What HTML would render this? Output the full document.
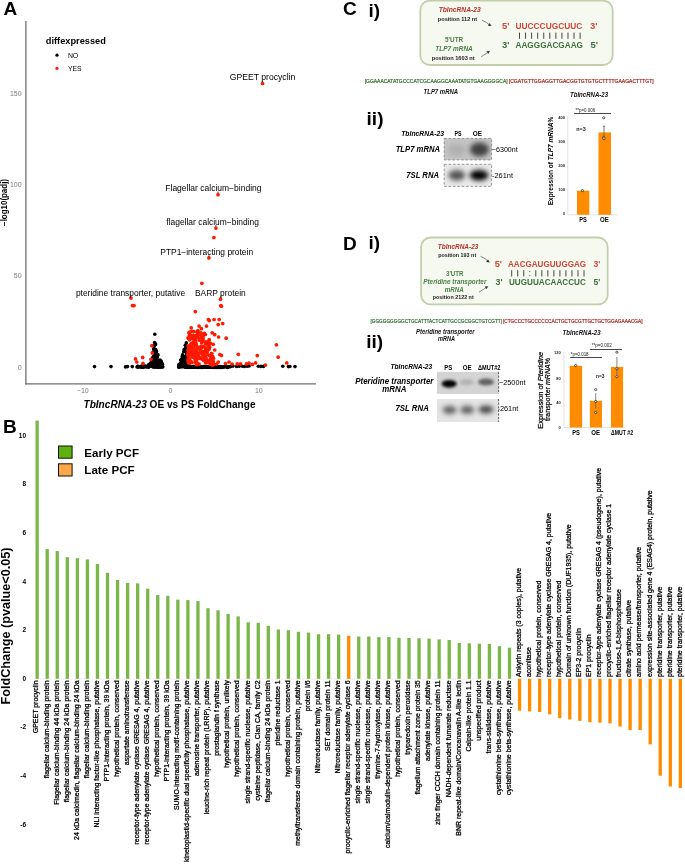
<!DOCTYPE html>
<html><head><meta charset="utf-8"><style>
html,body{margin:0;padding:0;background:#fff;}
svg{display:block;opacity:0.999;}
text{font-family:"Liberation Sans", sans-serif;}
</style></head><body>
<svg width="685" height="865" viewBox="0 0 685 865" font-family='"Liberation Sans", sans-serif'>
<rect width="685" height="865" fill="#fff"/>
<text x="3.40" y="14.60" font-size="19" font-weight="bold">A</text>
<line x1="25.9" y1="21" x2="25.9" y2="384.4" stroke="#6e6e6e" stroke-width="1.3"/>
<line x1="25.3" y1="383.8" x2="316" y2="383.8" stroke="#6e6e6e" stroke-width="1.3"/>
<text x="21.60" y="95.60" font-size="7.0" fill="#7a7a7a" text-anchor="end">150</text>
<text x="21.60" y="187.20" font-size="7.0" fill="#7a7a7a" text-anchor="end">100</text>
<text x="21.60" y="278.40" font-size="7.0" fill="#7a7a7a" text-anchor="end">50</text>
<text x="21.60" y="370.20" font-size="7.0" fill="#7a7a7a" text-anchor="end">0</text>
<text x="82.80" y="393.30" font-size="7.0" fill="#7a7a7a" text-anchor="middle">−10</text>
<text x="170.50" y="393.30" font-size="7.0" fill="#7a7a7a" text-anchor="middle">0</text>
<text x="258.80" y="393.30" font-size="7.0" fill="#7a7a7a" text-anchor="middle">10</text>
<text x="83.5" y="408.4" font-size="10.1" font-weight="bold" textLength="172" lengthAdjust="spacingAndGlyphs"><tspan font-style="italic">TbIncRNA-23</tspan> OE vs PS FoldChange</text>
<text x="0" y="0" font-size="8.3" font-weight="bold" text-anchor="middle" textLength="47.00" lengthAdjust="spacingAndGlyphs" transform="translate(6.80,202.50) rotate(-90)">−log10(padj)</text>
<text x="45.80" y="43.80" font-size="9.2" font-weight="bold" textLength="60.00" lengthAdjust="spacingAndGlyphs">diffexpressed</text>
<circle cx="57" cy="55.2" r="1.6" fill="#000"/>
<circle cx="57" cy="68.3" r="1.6" fill="#ff1a00"/>
<text x="67.90" y="57.70" font-size="6.9">NO</text>
<text x="67.90" y="70.80" font-size="6.9">YES</text>
<g fill="#000"><circle cx="94.5" cy="366.6" r="1.8"/><circle cx="111.0" cy="366.6" r="1.8"/><circle cx="125.5" cy="366.9" r="1.8"/><circle cx="127.5" cy="366.6" r="1.8"/><circle cx="132.3" cy="366.6" r="1.8"/><circle cx="137.9" cy="366.7" r="1.8"/><circle cx="141.0" cy="366.3" r="1.8"/><circle cx="144.0" cy="366.6" r="1.8"/><circle cx="146.5" cy="366.7" r="1.8"/><circle cx="157.8" cy="366.5" r="1.8"/><circle cx="144.3" cy="366.5" r="1.8"/><circle cx="152.9" cy="365.8" r="1.8"/><circle cx="142.7" cy="366.9" r="1.8"/><circle cx="153.6" cy="357.2" r="1.8"/><circle cx="154.2" cy="358.7" r="1.8"/><circle cx="155.5" cy="362.7" r="1.8"/><circle cx="159.3" cy="367.0" r="1.8"/><circle cx="146.9" cy="366.7" r="1.8"/><circle cx="143.4" cy="366.6" r="1.8"/><circle cx="156.8" cy="366.3" r="1.8"/><circle cx="142.8" cy="366.5" r="1.8"/><circle cx="148.3" cy="365.3" r="1.8"/><circle cx="156.1" cy="366.1" r="1.8"/><circle cx="153.7" cy="366.3" r="1.8"/><circle cx="158.1" cy="363.0" r="1.8"/><circle cx="160.3" cy="364.9" r="1.8"/><circle cx="153.7" cy="366.5" r="1.8"/><circle cx="138.0" cy="366.6" r="1.8"/><circle cx="152.0" cy="364.3" r="1.8"/><circle cx="152.5" cy="361.3" r="1.8"/><circle cx="159.8" cy="365.4" r="1.8"/><circle cx="158.5" cy="364.2" r="1.8"/><circle cx="161.9" cy="365.2" r="1.8"/><circle cx="152.6" cy="359.8" r="1.8"/><circle cx="138.9" cy="366.9" r="1.8"/><circle cx="162.5" cy="364.4" r="1.8"/><circle cx="155.4" cy="364.1" r="1.8"/><circle cx="155.8" cy="366.7" r="1.8"/><circle cx="141.6" cy="367.0" r="1.8"/><circle cx="154.1" cy="349.5" r="1.8"/><circle cx="152.1" cy="366.0" r="1.8"/><circle cx="137.0" cy="367.0" r="1.8"/><circle cx="162.5" cy="367.0" r="1.8"/><circle cx="153.5" cy="357.9" r="1.8"/><circle cx="156.1" cy="362.7" r="1.8"/><circle cx="155.4" cy="344.6" r="1.8"/><circle cx="161.2" cy="361.8" r="1.8"/><circle cx="160.0" cy="360.0" r="1.8"/><circle cx="152.7" cy="366.6" r="1.8"/><circle cx="152.0" cy="359.2" r="1.8"/><circle cx="159.1" cy="366.6" r="1.8"/><circle cx="156.6" cy="366.9" r="1.8"/><circle cx="152.5" cy="357.9" r="1.8"/><circle cx="161.3" cy="364.1" r="1.8"/><circle cx="154.6" cy="365.1" r="1.8"/><circle cx="154.1" cy="359.2" r="1.8"/><circle cx="160.5" cy="362.5" r="1.8"/><circle cx="154.3" cy="365.1" r="1.8"/><circle cx="144.7" cy="366.1" r="1.8"/><circle cx="162.1" cy="363.6" r="1.8"/><circle cx="148.4" cy="366.7" r="1.8"/><circle cx="151.7" cy="362.9" r="1.8"/><circle cx="157.8" cy="367.0" r="1.8"/><circle cx="142.5" cy="366.0" r="1.8"/><circle cx="140.9" cy="367.0" r="1.8"/><circle cx="156.8" cy="360.7" r="1.8"/><circle cx="155.9" cy="366.1" r="1.8"/><circle cx="161.0" cy="361.1" r="1.8"/><circle cx="155.7" cy="364.9" r="1.8"/><circle cx="157.7" cy="362.6" r="1.8"/><circle cx="145.6" cy="366.6" r="1.8"/><circle cx="157.1" cy="357.7" r="1.8"/><circle cx="157.7" cy="366.0" r="1.8"/><circle cx="150.5" cy="363.3" r="1.8"/><circle cx="156.0" cy="351.8" r="1.8"/><circle cx="151.4" cy="362.8" r="1.8"/><circle cx="160.8" cy="365.0" r="1.8"/><circle cx="158.0" cy="354.9" r="1.8"/><circle cx="161.4" cy="363.8" r="1.8"/><circle cx="149.0" cy="366.2" r="1.8"/><circle cx="153.0" cy="366.4" r="1.8"/><circle cx="156.1" cy="366.2" r="1.8"/><circle cx="150.0" cy="364.2" r="1.8"/><circle cx="153.4" cy="351.8" r="1.8"/><circle cx="161.4" cy="364.8" r="1.8"/><circle cx="156.0" cy="364.0" r="1.8"/><circle cx="154.8" cy="367.0" r="1.8"/><circle cx="156.8" cy="357.1" r="1.8"/><circle cx="154.9" cy="365.3" r="1.8"/><circle cx="137.9" cy="366.4" r="1.8"/><circle cx="138.6" cy="366.8" r="1.8"/><circle cx="157.0" cy="362.5" r="1.8"/><circle cx="159.2" cy="365.4" r="1.8"/><circle cx="158.1" cy="364.0" r="1.8"/><circle cx="148.9" cy="367.0" r="1.8"/><circle cx="153.2" cy="364.5" r="1.8"/><circle cx="153.7" cy="349.1" r="1.8"/><circle cx="156.3" cy="364.1" r="1.8"/><circle cx="147.0" cy="366.8" r="1.8"/><circle cx="156.9" cy="366.9" r="1.8"/><circle cx="161.6" cy="365.7" r="1.8"/><circle cx="149.0" cy="365.6" r="1.8"/><circle cx="152.4" cy="361.4" r="1.8"/><circle cx="151.4" cy="363.5" r="1.8"/><circle cx="155.7" cy="363.2" r="1.8"/><circle cx="156.8" cy="360.8" r="1.8"/><circle cx="162.0" cy="366.7" r="1.8"/><circle cx="148.5" cy="365.1" r="1.8"/><circle cx="154.4" cy="358.7" r="1.8"/><circle cx="142.6" cy="366.3" r="1.8"/><circle cx="153.2" cy="361.6" r="1.8"/><circle cx="160.2" cy="366.9" r="1.8"/><circle cx="138.0" cy="366.6" r="1.8"/><circle cx="154.6" cy="355.4" r="1.8"/><circle cx="153.4" cy="361.2" r="1.8"/><circle cx="149.2" cy="364.9" r="1.8"/><circle cx="159.1" cy="366.7" r="1.8"/><circle cx="146.2" cy="366.5" r="1.8"/><circle cx="160.1" cy="366.7" r="1.8"/><circle cx="154.2" cy="366.6" r="1.8"/><circle cx="155.1" cy="363.5" r="1.8"/><circle cx="156.0" cy="361.4" r="1.8"/><circle cx="160.6" cy="364.2" r="1.8"/><circle cx="151.5" cy="365.5" r="1.8"/><circle cx="143.7" cy="367.0" r="1.8"/><circle cx="157.7" cy="366.6" r="1.8"/><circle cx="160.7" cy="366.6" r="1.8"/><circle cx="153.4" cy="366.0" r="1.8"/><circle cx="156.5" cy="351.4" r="1.8"/><circle cx="157.0" cy="356.5" r="1.8"/><circle cx="157.0" cy="360.6" r="1.8"/><circle cx="154.5" cy="357.5" r="1.8"/><circle cx="153.6" cy="356.4" r="1.8"/><circle cx="155.5" cy="344.1" r="1.8"/><circle cx="162.7" cy="366.8" r="1.8"/><circle cx="144.5" cy="366.3" r="1.8"/><circle cx="140.9" cy="366.8" r="1.8"/><circle cx="161.0" cy="366.9" r="1.8"/><circle cx="155.7" cy="353.7" r="1.8"/><circle cx="156.8" cy="362.8" r="1.8"/><circle cx="142.1" cy="366.8" r="1.8"/><circle cx="150.2" cy="363.7" r="1.8"/><circle cx="142.5" cy="367.0" r="1.8"/><circle cx="152.7" cy="365.8" r="1.8"/><circle cx="150.7" cy="365.9" r="1.8"/><circle cx="157.2" cy="367.0" r="1.8"/><circle cx="158.6" cy="366.6" r="1.8"/><circle cx="150.5" cy="365.8" r="1.8"/><circle cx="158.9" cy="362.8" r="1.8"/><circle cx="144.5" cy="366.7" r="1.8"/><circle cx="155.7" cy="361.6" r="1.8"/><circle cx="154.9" cy="366.4" r="1.8"/><circle cx="154.0" cy="367.0" r="1.8"/><circle cx="148.6" cy="367.0" r="1.8"/><circle cx="150.8" cy="363.1" r="1.8"/><circle cx="154.3" cy="364.1" r="1.8"/><circle cx="155.5" cy="365.4" r="1.8"/><circle cx="152.3" cy="366.6" r="1.8"/><circle cx="158.6" cy="360.9" r="1.8"/><circle cx="154.8" cy="334.2" r="1.8"/><circle cx="154.6" cy="342.6" r="1.8"/><circle cx="154.1" cy="348.5" r="1.8"/><circle cx="155.7" cy="349.5" r="1.8"/><circle cx="154.5" cy="345.5" r="1.8"/><circle cx="181.7" cy="360.7" r="1.8"/><circle cx="186.7" cy="353.6" r="1.8"/><circle cx="184.7" cy="367.0" r="1.8"/><circle cx="181.7" cy="362.3" r="1.8"/><circle cx="185.2" cy="366.3" r="1.8"/><circle cx="182.2" cy="358.2" r="1.8"/><circle cx="186.7" cy="347.9" r="1.8"/><circle cx="184.8" cy="365.6" r="1.8"/><circle cx="184.1" cy="362.1" r="1.8"/><circle cx="183.6" cy="365.9" r="1.8"/><circle cx="183.7" cy="351.8" r="1.8"/><circle cx="187.2" cy="365.1" r="1.8"/><circle cx="188.4" cy="354.7" r="1.8"/><circle cx="180.3" cy="366.5" r="1.8"/><circle cx="185.7" cy="362.6" r="1.8"/><circle cx="188.2" cy="361.9" r="1.8"/><circle cx="183.1" cy="366.1" r="1.8"/><circle cx="188.7" cy="365.9" r="1.8"/><circle cx="188.0" cy="357.2" r="1.8"/><circle cx="184.2" cy="356.7" r="1.8"/><circle cx="184.7" cy="366.1" r="1.8"/><circle cx="187.1" cy="363.4" r="1.8"/><circle cx="187.9" cy="364.3" r="1.8"/><circle cx="178.9" cy="366.9" r="1.8"/><circle cx="188.3" cy="353.7" r="1.8"/><circle cx="186.1" cy="361.4" r="1.8"/><circle cx="183.2" cy="365.8" r="1.8"/><circle cx="182.3" cy="356.4" r="1.8"/><circle cx="184.6" cy="359.2" r="1.8"/><circle cx="182.6" cy="354.8" r="1.8"/><circle cx="185.6" cy="350.3" r="1.8"/><circle cx="186.3" cy="358.8" r="1.8"/><circle cx="187.4" cy="360.8" r="1.8"/><circle cx="182.8" cy="356.5" r="1.8"/><circle cx="188.0" cy="357.7" r="1.8"/><circle cx="183.8" cy="360.2" r="1.8"/><circle cx="188.0" cy="362.8" r="1.8"/><circle cx="187.9" cy="351.2" r="1.8"/><circle cx="184.6" cy="350.5" r="1.8"/><circle cx="178.9" cy="366.1" r="1.8"/><circle cx="183.0" cy="358.4" r="1.8"/><circle cx="182.4" cy="366.8" r="1.8"/><circle cx="185.7" cy="357.7" r="1.8"/><circle cx="180.7" cy="363.1" r="1.8"/><circle cx="182.4" cy="364.4" r="1.8"/><circle cx="188.6" cy="353.4" r="1.8"/><circle cx="187.5" cy="360.5" r="1.8"/><circle cx="186.9" cy="364.7" r="1.8"/><circle cx="186.2" cy="356.5" r="1.8"/><circle cx="187.9" cy="366.4" r="1.8"/><circle cx="186.7" cy="366.1" r="1.8"/><circle cx="181.4" cy="362.7" r="1.8"/><circle cx="187.0" cy="361.1" r="1.8"/><circle cx="178.6" cy="366.9" r="1.8"/><circle cx="187.9" cy="363.1" r="1.8"/><circle cx="188.8" cy="359.2" r="1.8"/><circle cx="180.4" cy="363.3" r="1.8"/><circle cx="182.0" cy="359.2" r="1.8"/><circle cx="188.9" cy="365.0" r="1.8"/><circle cx="185.0" cy="365.2" r="1.8"/><circle cx="187.7" cy="366.8" r="1.8"/><circle cx="187.6" cy="351.9" r="1.8"/><circle cx="188.3" cy="359.9" r="1.8"/><circle cx="179.0" cy="364.6" r="1.8"/><circle cx="180.2" cy="365.3" r="1.8"/><circle cx="186.7" cy="361.6" r="1.8"/><circle cx="184.5" cy="364.5" r="1.8"/><circle cx="185.4" cy="363.7" r="1.8"/><circle cx="185.1" cy="366.4" r="1.8"/><circle cx="188.8" cy="360.0" r="1.8"/><circle cx="183.9" cy="357.6" r="1.8"/><circle cx="181.2" cy="364.2" r="1.8"/><circle cx="186.9" cy="366.5" r="1.8"/><circle cx="180.8" cy="363.6" r="1.8"/><circle cx="184.1" cy="365.2" r="1.8"/><circle cx="186.3" cy="361.4" r="1.8"/><circle cx="188.2" cy="358.4" r="1.8"/><circle cx="185.1" cy="361.9" r="1.8"/><circle cx="185.3" cy="349.4" r="1.8"/><circle cx="183.7" cy="358.3" r="1.8"/><circle cx="187.3" cy="352.8" r="1.8"/><circle cx="180.7" cy="360.0" r="1.8"/><circle cx="186.5" cy="349.3" r="1.8"/><circle cx="186.7" cy="364.4" r="1.8"/><circle cx="183.4" cy="364.7" r="1.8"/><circle cx="184.4" cy="358.5" r="1.8"/><circle cx="185.9" cy="356.3" r="1.8"/><circle cx="187.6" cy="365.3" r="1.8"/><circle cx="179.8" cy="367.0" r="1.8"/><circle cx="183.5" cy="360.1" r="1.8"/><circle cx="182.9" cy="363.9" r="1.8"/><circle cx="186.8" cy="366.6" r="1.8"/><circle cx="188.0" cy="356.5" r="1.8"/><circle cx="180.7" cy="365.8" r="1.8"/><circle cx="181.5" cy="366.8" r="1.8"/><circle cx="183.8" cy="363.9" r="1.8"/><circle cx="184.5" cy="366.5" r="1.8"/><circle cx="187.0" cy="365.5" r="1.8"/><circle cx="180.9" cy="365.6" r="1.8"/><circle cx="185.6" cy="347.7" r="1.8"/><circle cx="186.7" cy="366.7" r="1.8"/><circle cx="182.6" cy="361.8" r="1.8"/><circle cx="186.2" cy="366.9" r="1.8"/><circle cx="181.3" cy="360.4" r="1.8"/><circle cx="178.9" cy="366.9" r="1.8"/><circle cx="186.1" cy="364.5" r="1.8"/><circle cx="188.3" cy="361.8" r="1.8"/><circle cx="184.8" cy="366.9" r="1.8"/><circle cx="183.1" cy="361.2" r="1.8"/><circle cx="187.3" cy="361.4" r="1.8"/><circle cx="186.3" cy="342.9" r="1.8"/><circle cx="185.3" cy="345.2" r="1.8"/><circle cx="184.2" cy="349.5" r="1.8"/><circle cx="187.5" cy="347.0" r="1.8"/><circle cx="218.7" cy="366.7" r="1.8"/><circle cx="197.4" cy="366.7" r="1.8"/><circle cx="206.7" cy="366.6" r="1.8"/><circle cx="191.7" cy="366.7" r="1.8"/><circle cx="202.8" cy="366.8" r="1.8"/><circle cx="201.8" cy="367.4" r="1.8"/><circle cx="213.2" cy="367.3" r="1.8"/><circle cx="191.7" cy="366.8" r="1.8"/><circle cx="187.5" cy="367.1" r="1.8"/><circle cx="198.0" cy="366.7" r="1.8"/><circle cx="186.3" cy="366.7" r="1.8"/><circle cx="193.9" cy="366.9" r="1.8"/><circle cx="226.6" cy="367.1" r="1.8"/><circle cx="194.1" cy="366.8" r="1.8"/><circle cx="189.9" cy="367.3" r="1.8"/><circle cx="197.9" cy="367.2" r="1.8"/><circle cx="215.5" cy="367.3" r="1.8"/><circle cx="186.3" cy="366.8" r="1.8"/><circle cx="199.0" cy="366.6" r="1.8"/><circle cx="224.2" cy="366.8" r="1.8"/><circle cx="218.1" cy="367.0" r="1.8"/><circle cx="187.0" cy="366.9" r="1.8"/><circle cx="193.0" cy="366.5" r="1.8"/><circle cx="189.8" cy="367.0" r="1.8"/><circle cx="186.5" cy="366.8" r="1.8"/><circle cx="200.8" cy="367.0" r="1.8"/><circle cx="189.4" cy="367.1" r="1.8"/><circle cx="193.8" cy="367.2" r="1.8"/><circle cx="212.5" cy="366.6" r="1.8"/><circle cx="191.7" cy="366.8" r="1.8"/><circle cx="215.0" cy="366.9" r="1.8"/><circle cx="199.1" cy="367.3" r="1.8"/><circle cx="192.5" cy="366.8" r="1.8"/><circle cx="197.3" cy="366.7" r="1.8"/><circle cx="186.7" cy="366.5" r="1.8"/><circle cx="210.7" cy="367.0" r="1.8"/><circle cx="220.1" cy="367.4" r="1.8"/><circle cx="195.3" cy="367.1" r="1.8"/><circle cx="226.3" cy="366.7" r="1.8"/><circle cx="213.7" cy="367.1" r="1.8"/><circle cx="228.4" cy="367.3" r="1.8"/><circle cx="192.8" cy="367.1" r="1.8"/><circle cx="188.0" cy="366.9" r="1.8"/><circle cx="199.3" cy="366.6" r="1.8"/><circle cx="198.9" cy="366.8" r="1.8"/><circle cx="204.1" cy="366.8" r="1.8"/><circle cx="190.1" cy="366.9" r="1.8"/><circle cx="203.1" cy="366.7" r="1.8"/><circle cx="212.5" cy="366.7" r="1.8"/><circle cx="188.1" cy="366.8" r="1.8"/><circle cx="200.7" cy="366.6" r="1.8"/><circle cx="208.3" cy="367.1" r="1.8"/><circle cx="206.8" cy="367.1" r="1.8"/><circle cx="186.3" cy="366.9" r="1.8"/><circle cx="198.1" cy="366.6" r="1.8"/><circle cx="199.9" cy="366.5" r="1.8"/><circle cx="204.1" cy="367.0" r="1.8"/><circle cx="202.8" cy="366.8" r="1.8"/><circle cx="193.6" cy="366.5" r="1.8"/><circle cx="197.4" cy="367.3" r="1.8"/><circle cx="207.5" cy="366.7" r="1.8"/><circle cx="212.6" cy="366.7" r="1.8"/><circle cx="202.8" cy="367.1" r="1.8"/><circle cx="228.4" cy="366.8" r="1.8"/><circle cx="208.0" cy="367.3" r="1.8"/><circle cx="218.1" cy="367.1" r="1.8"/><circle cx="210.2" cy="366.9" r="1.8"/><circle cx="200.4" cy="366.7" r="1.8"/><circle cx="221.3" cy="367.3" r="1.8"/><circle cx="198.9" cy="367.3" r="1.8"/><circle cx="186.6" cy="366.6" r="1.8"/><circle cx="204.6" cy="366.8" r="1.8"/><circle cx="197.9" cy="367.4" r="1.8"/><circle cx="189.8" cy="366.7" r="1.8"/><circle cx="192.6" cy="367.1" r="1.8"/><circle cx="192.8" cy="366.5" r="1.8"/><circle cx="206.4" cy="366.9" r="1.8"/><circle cx="193.0" cy="366.9" r="1.8"/><circle cx="211.7" cy="367.0" r="1.8"/><circle cx="210.4" cy="367.0" r="1.8"/><circle cx="221.4" cy="367.4" r="1.8"/><circle cx="196.8" cy="366.8" r="1.8"/><circle cx="224.5" cy="366.8" r="1.8"/><circle cx="215.1" cy="367.1" r="1.8"/><circle cx="213.6" cy="367.4" r="1.8"/><circle cx="221.0" cy="366.6" r="1.8"/><circle cx="210.3" cy="366.9" r="1.8"/><circle cx="207.4" cy="366.8" r="1.8"/><circle cx="194.8" cy="367.2" r="1.8"/><circle cx="205.9" cy="366.7" r="1.8"/><circle cx="193.4" cy="366.8" r="1.8"/><circle cx="190.8" cy="367.0" r="1.8"/><circle cx="189.0" cy="366.6" r="1.8"/><circle cx="187.4" cy="366.6" r="1.8"/><circle cx="214.6" cy="366.6" r="1.8"/><circle cx="202.0" cy="367.2" r="1.8"/><circle cx="203.4" cy="366.6" r="1.8"/><circle cx="223.3" cy="367.3" r="1.8"/><circle cx="187.0" cy="366.7" r="1.8"/><circle cx="204.6" cy="367.2" r="1.8"/><circle cx="199.3" cy="367.1" r="1.8"/><circle cx="193.5" cy="367.1" r="1.8"/><circle cx="196.5" cy="366.8" r="1.8"/><circle cx="217.5" cy="367.3" r="1.8"/><circle cx="221.2" cy="367.0" r="1.8"/><circle cx="200.6" cy="367.1" r="1.8"/><circle cx="210.3" cy="367.2" r="1.8"/><circle cx="219.7" cy="366.6" r="1.8"/><circle cx="198.7" cy="367.1" r="1.8"/><circle cx="192.7" cy="366.7" r="1.8"/><circle cx="186.2" cy="367.0" r="1.8"/><circle cx="227.6" cy="367.4" r="1.8"/><circle cx="189.3" cy="367.1" r="1.8"/><circle cx="200.5" cy="367.1" r="1.8"/><circle cx="199.5" cy="367.3" r="1.8"/><circle cx="230.3" cy="366.5" r="1.8"/><circle cx="215.0" cy="366.6" r="1.8"/><circle cx="186.7" cy="366.8" r="1.8"/><circle cx="216.0" cy="367.4" r="1.8"/><circle cx="188.9" cy="366.8" r="1.8"/><circle cx="186.4" cy="367.0" r="1.8"/><circle cx="203.5" cy="366.8" r="1.8"/><circle cx="195.8" cy="367.2" r="1.8"/><circle cx="221.8" cy="366.8" r="1.8"/><circle cx="199.3" cy="367.1" r="1.8"/><circle cx="217.8" cy="367.4" r="1.8"/><circle cx="199.2" cy="367.1" r="1.8"/><circle cx="206.5" cy="367.2" r="1.8"/><circle cx="189.7" cy="366.7" r="1.8"/><circle cx="188.5" cy="367.3" r="1.8"/><circle cx="193.5" cy="366.9" r="1.8"/><circle cx="188.9" cy="366.8" r="1.8"/><circle cx="186.3" cy="367.0" r="1.8"/><circle cx="189.6" cy="367.1" r="1.8"/><circle cx="194.4" cy="366.7" r="1.8"/><circle cx="203.4" cy="366.8" r="1.8"/><circle cx="193.8" cy="366.5" r="1.8"/><circle cx="187.3" cy="367.3" r="1.8"/><circle cx="195.8" cy="366.6" r="1.8"/><circle cx="190.9" cy="366.9" r="1.8"/><circle cx="230.7" cy="366.6" r="1.8"/><circle cx="233.0" cy="366.1" r="1.8"/><circle cx="236.6" cy="366.5" r="1.8"/><circle cx="239.2" cy="366.3" r="1.8"/><circle cx="242.5" cy="366.2" r="1.8"/><circle cx="244.5" cy="366.5" r="1.8"/><circle cx="247.1" cy="366.2" r="1.8"/><circle cx="249.1" cy="366.0" r="1.8"/><circle cx="258.3" cy="366.3" r="1.8"/><circle cx="260.9" cy="366.4" r="1.8"/><circle cx="263.5" cy="366.4" r="1.8"/><circle cx="282.8" cy="366.2" r="1.8"/><circle cx="288.4" cy="366.6" r="1.8"/><circle cx="289.9" cy="366.5" r="1.8"/><circle cx="295.0" cy="366.6" r="1.8"/></g>
<g fill="#ff1a00"><circle cx="197.2" cy="336.8" r="1.85"/><circle cx="205.1" cy="360.6" r="1.85"/><circle cx="188.3" cy="360.6" r="1.85"/><circle cx="189.8" cy="363.1" r="1.85"/><circle cx="195.1" cy="339.9" r="1.85"/><circle cx="193.9" cy="348.7" r="1.85"/><circle cx="188.1" cy="359.5" r="1.85"/><circle cx="212.2" cy="364.7" r="1.85"/><circle cx="199.5" cy="338.2" r="1.85"/><circle cx="207.1" cy="344.1" r="1.85"/><circle cx="196.1" cy="338.0" r="1.85"/><circle cx="208.1" cy="344.3" r="1.85"/><circle cx="213.1" cy="364.4" r="1.85"/><circle cx="211.9" cy="360.6" r="1.85"/><circle cx="204.5" cy="358.4" r="1.85"/><circle cx="210.7" cy="364.5" r="1.85"/><circle cx="200.8" cy="358.7" r="1.85"/><circle cx="195.8" cy="353.8" r="1.85"/><circle cx="203.1" cy="339.3" r="1.85"/><circle cx="195.2" cy="344.2" r="1.85"/><circle cx="195.0" cy="356.8" r="1.85"/><circle cx="210.5" cy="359.0" r="1.85"/><circle cx="189.3" cy="355.5" r="1.85"/><circle cx="205.5" cy="359.7" r="1.85"/><circle cx="205.6" cy="349.6" r="1.85"/><circle cx="203.8" cy="360.4" r="1.85"/><circle cx="189.5" cy="361.3" r="1.85"/><circle cx="194.9" cy="351.7" r="1.85"/><circle cx="188.1" cy="350.3" r="1.85"/><circle cx="196.2" cy="355.4" r="1.85"/><circle cx="199.7" cy="332.8" r="1.85"/><circle cx="191.5" cy="335.6" r="1.85"/><circle cx="194.2" cy="339.9" r="1.85"/><circle cx="189.6" cy="332.5" r="1.85"/><circle cx="196.9" cy="331.8" r="1.85"/><circle cx="191.8" cy="352.7" r="1.85"/><circle cx="204.5" cy="360.5" r="1.85"/><circle cx="193.0" cy="342.8" r="1.85"/><circle cx="211.8" cy="361.5" r="1.85"/><circle cx="191.1" cy="354.5" r="1.85"/><circle cx="213.2" cy="364.2" r="1.85"/><circle cx="202.4" cy="354.1" r="1.85"/><circle cx="202.7" cy="359.3" r="1.85"/><circle cx="201.9" cy="336.1" r="1.85"/><circle cx="209.0" cy="349.3" r="1.85"/><circle cx="198.9" cy="347.0" r="1.85"/><circle cx="189.7" cy="338.0" r="1.85"/><circle cx="204.0" cy="352.0" r="1.85"/><circle cx="203.3" cy="352.9" r="1.85"/><circle cx="195.7" cy="358.4" r="1.85"/><circle cx="201.5" cy="347.4" r="1.85"/><circle cx="199.1" cy="364.1" r="1.85"/><circle cx="202.2" cy="351.8" r="1.85"/><circle cx="201.3" cy="346.5" r="1.85"/><circle cx="211.3" cy="363.1" r="1.85"/><circle cx="197.9" cy="330.6" r="1.85"/><circle cx="205.4" cy="356.7" r="1.85"/><circle cx="205.4" cy="334.5" r="1.85"/><circle cx="196.2" cy="335.5" r="1.85"/><circle cx="189.9" cy="332.2" r="1.85"/><circle cx="198.5" cy="358.3" r="1.85"/><circle cx="208.5" cy="348.2" r="1.85"/><circle cx="211.5" cy="353.6" r="1.85"/><circle cx="207.2" cy="351.3" r="1.85"/><circle cx="213.3" cy="364.6" r="1.85"/><circle cx="209.4" cy="347.3" r="1.85"/><circle cx="192.5" cy="338.0" r="1.85"/><circle cx="197.5" cy="347.9" r="1.85"/><circle cx="209.3" cy="360.8" r="1.85"/><circle cx="193.2" cy="344.0" r="1.85"/><circle cx="189.0" cy="348.3" r="1.85"/><circle cx="206.9" cy="351.8" r="1.85"/><circle cx="192.3" cy="338.4" r="1.85"/><circle cx="209.0" cy="345.1" r="1.85"/><circle cx="200.1" cy="334.7" r="1.85"/><circle cx="207.2" cy="361.5" r="1.85"/><circle cx="195.3" cy="362.3" r="1.85"/><circle cx="188.4" cy="355.3" r="1.85"/><circle cx="209.3" cy="343.6" r="1.85"/><circle cx="189.8" cy="360.2" r="1.85"/><circle cx="195.8" cy="336.2" r="1.85"/><circle cx="201.9" cy="335.6" r="1.85"/><circle cx="188.9" cy="332.8" r="1.85"/><circle cx="191.6" cy="345.0" r="1.85"/><circle cx="209.6" cy="347.1" r="1.85"/><circle cx="191.3" cy="343.6" r="1.85"/><circle cx="196.9" cy="364.5" r="1.85"/><circle cx="194.6" cy="355.7" r="1.85"/><circle cx="202.3" cy="357.3" r="1.85"/><circle cx="201.6" cy="343.0" r="1.85"/><circle cx="191.0" cy="361.6" r="1.85"/><circle cx="204.1" cy="351.6" r="1.85"/><circle cx="190.0" cy="362.0" r="1.85"/><circle cx="211.6" cy="357.3" r="1.85"/><circle cx="195.1" cy="359.5" r="1.85"/><circle cx="213.3" cy="361.6" r="1.85"/><circle cx="205.4" cy="355.3" r="1.85"/><circle cx="193.9" cy="352.5" r="1.85"/><circle cx="190.3" cy="345.3" r="1.85"/><circle cx="196.7" cy="337.3" r="1.85"/><circle cx="196.3" cy="350.8" r="1.85"/><circle cx="198.9" cy="332.9" r="1.85"/><circle cx="194.8" cy="341.8" r="1.85"/><circle cx="192.2" cy="346.6" r="1.85"/><circle cx="193.3" cy="335.3" r="1.85"/><circle cx="193.3" cy="336.0" r="1.85"/><circle cx="203.7" cy="351.9" r="1.85"/><circle cx="211.4" cy="359.9" r="1.85"/><circle cx="205.6" cy="347.8" r="1.85"/><circle cx="197.4" cy="363.3" r="1.85"/><circle cx="196.6" cy="356.8" r="1.85"/><circle cx="197.2" cy="332.1" r="1.85"/><circle cx="193.5" cy="342.1" r="1.85"/><circle cx="203.5" cy="358.4" r="1.85"/><circle cx="196.4" cy="361.4" r="1.85"/><circle cx="210.2" cy="360.0" r="1.85"/><circle cx="196.6" cy="354.8" r="1.85"/><circle cx="207.9" cy="341.5" r="1.85"/><circle cx="201.2" cy="348.2" r="1.85"/><circle cx="189.4" cy="335.9" r="1.85"/><circle cx="189.2" cy="354.6" r="1.85"/><circle cx="195.5" cy="341.0" r="1.85"/><circle cx="203.4" cy="355.4" r="1.85"/><circle cx="210.3" cy="343.2" r="1.85"/><circle cx="188.2" cy="345.8" r="1.85"/><circle cx="197.9" cy="354.1" r="1.85"/><circle cx="197.8" cy="355.6" r="1.85"/><circle cx="203.5" cy="346.7" r="1.85"/><circle cx="212.6" cy="356.3" r="1.85"/><circle cx="213.3" cy="363.0" r="1.85"/><circle cx="208.2" cy="347.9" r="1.85"/><circle cx="204.4" cy="333.4" r="1.85"/><circle cx="188.9" cy="351.4" r="1.85"/><circle cx="196.1" cy="343.6" r="1.85"/><circle cx="191.8" cy="331.3" r="1.85"/><circle cx="191.6" cy="354.0" r="1.85"/><circle cx="190.2" cy="353.4" r="1.85"/><circle cx="205.6" cy="363.0" r="1.85"/><circle cx="190.7" cy="344.5" r="1.85"/><circle cx="202.1" cy="341.5" r="1.85"/><circle cx="192.6" cy="337.8" r="1.85"/><circle cx="205.2" cy="341.8" r="1.85"/><circle cx="189.8" cy="351.0" r="1.85"/><circle cx="188.1" cy="337.8" r="1.85"/><circle cx="211.7" cy="353.5" r="1.85"/><circle cx="188.2" cy="355.2" r="1.85"/><circle cx="199.7" cy="348.4" r="1.85"/><circle cx="189.6" cy="339.8" r="1.85"/><circle cx="193.7" cy="349.0" r="1.85"/><circle cx="189.9" cy="347.6" r="1.85"/><circle cx="190.0" cy="362.8" r="1.85"/><circle cx="199.0" cy="356.5" r="1.85"/><circle cx="206.6" cy="358.8" r="1.85"/><circle cx="196.5" cy="363.6" r="1.85"/><circle cx="191.8" cy="351.2" r="1.85"/><circle cx="200.3" cy="351.1" r="1.85"/><circle cx="208.8" cy="362.8" r="1.85"/><circle cx="208.8" cy="361.7" r="1.85"/><circle cx="212.6" cy="360.6" r="1.85"/><circle cx="196.3" cy="345.2" r="1.85"/><circle cx="209.2" cy="339.7" r="1.85"/><circle cx="196.5" cy="364.6" r="1.85"/><circle cx="190.5" cy="338.4" r="1.85"/><circle cx="205.3" cy="344.0" r="1.85"/><circle cx="190.5" cy="348.7" r="1.85"/><circle cx="188.3" cy="362.3" r="1.85"/><circle cx="193.7" cy="331.6" r="1.85"/><circle cx="202.7" cy="337.8" r="1.85"/><circle cx="188.5" cy="353.0" r="1.85"/><circle cx="189.1" cy="357.9" r="1.85"/><circle cx="189.6" cy="335.0" r="1.85"/><circle cx="194.3" cy="349.6" r="1.85"/><circle cx="203.0" cy="336.5" r="1.85"/><circle cx="211.8" cy="358.3" r="1.85"/><circle cx="198.7" cy="334.4" r="1.85"/><circle cx="196.0" cy="356.2" r="1.85"/><circle cx="205.5" cy="358.3" r="1.85"/><circle cx="195.3" cy="351.8" r="1.85"/><circle cx="198.1" cy="354.2" r="1.85"/><circle cx="196.9" cy="351.0" r="1.85"/><circle cx="188.6" cy="338.5" r="1.85"/><circle cx="188.8" cy="349.3" r="1.85"/><circle cx="200.0" cy="353.1" r="1.85"/><circle cx="191.9" cy="362.4" r="1.85"/><circle cx="195.4" cy="355.7" r="1.85"/><circle cx="198.3" cy="358.4" r="1.85"/><circle cx="205.8" cy="351.5" r="1.85"/><circle cx="188.1" cy="353.4" r="1.85"/><circle cx="212.4" cy="364.8" r="1.85"/><circle cx="201.3" cy="333.1" r="1.85"/><circle cx="195.3" cy="345.7" r="1.85"/><circle cx="195.3" cy="356.1" r="1.85"/><circle cx="201.7" cy="346.8" r="1.85"/><circle cx="194.0" cy="349.3" r="1.85"/><circle cx="199.2" cy="340.2" r="1.85"/><circle cx="188.6" cy="362.7" r="1.85"/><circle cx="192.6" cy="357.2" r="1.85"/><circle cx="207.2" cy="353.8" r="1.85"/><circle cx="209.1" cy="355.6" r="1.85"/><circle cx="193.3" cy="342.7" r="1.85"/><circle cx="201.9" cy="283.3" r="1.85"/><circle cx="220.5" cy="299.2" r="1.85"/><circle cx="221.4" cy="306.2" r="1.85"/><circle cx="195.3" cy="311.6" r="1.85"/><circle cx="208.4" cy="319.5" r="1.85"/><circle cx="209.2" cy="320.6" r="1.85"/><circle cx="214.1" cy="319.5" r="1.85"/><circle cx="219.2" cy="319.5" r="1.85"/><circle cx="218.2" cy="324.6" r="1.85"/><circle cx="222.7" cy="323.6" r="1.85"/><circle cx="199.1" cy="326.1" r="1.85"/><circle cx="201.4" cy="328.7" r="1.85"/><circle cx="206.5" cy="326.1" r="1.85"/><circle cx="191.2" cy="327.8" r="1.85"/><circle cx="226.2" cy="338.2" r="1.85"/><circle cx="221.4" cy="355.4" r="1.85"/><circle cx="219.8" cy="354.5" r="1.85"/><circle cx="218.2" cy="362.1" r="1.85"/><circle cx="213.2" cy="344.3" r="1.85"/><circle cx="214.7" cy="350.0" r="1.85"/><circle cx="213.5" cy="358.3" r="1.85"/><circle cx="218.6" cy="337.0" r="1.85"/><circle cx="214.7" cy="334.7" r="1.85"/><circle cx="212.2" cy="332.8" r="1.85"/><circle cx="216.5" cy="364.0" r="1.85"/><circle cx="229.0" cy="362.0" r="1.85"/><circle cx="225.5" cy="363.5" r="1.85"/><circle cx="232.0" cy="364.0" r="1.85"/><circle cx="238.3" cy="354.3" r="1.85"/><circle cx="257.3" cy="355.6" r="1.85"/><circle cx="276.4" cy="344.8" r="1.85"/><circle cx="278.2" cy="357.2" r="1.85"/><circle cx="286.8" cy="362.9" r="1.85"/><circle cx="255.6" cy="362.9" r="1.85"/><circle cx="265.5" cy="365.1" r="1.85"/><circle cx="249.0" cy="363.1" r="1.85"/><circle cx="252.3" cy="364.4" r="1.85"/><circle cx="246.4" cy="363.9" r="1.85"/><circle cx="237.2" cy="363.9" r="1.85"/><circle cx="240.5" cy="363.9" r="1.85"/><circle cx="262.6" cy="83.5" r="1.85"/><circle cx="218.0" cy="194.7" r="1.85"/><circle cx="215.9" cy="228.1" r="1.85"/><circle cx="213.9" cy="237.6" r="1.85"/><circle cx="208.9" cy="257.9" r="1.85"/><circle cx="131.0" cy="298.1" r="1.85"/><circle cx="132.5" cy="305.6" r="1.85"/><circle cx="134.0" cy="305.6" r="1.85"/><circle cx="220.8" cy="305.6" r="1.85"/><circle cx="151.9" cy="345.7" r="1.85"/><circle cx="152.3" cy="352.9" r="1.85"/><circle cx="135.5" cy="358.9" r="1.85"/><circle cx="142.7" cy="357.4" r="1.85"/><circle cx="136.8" cy="362.0" r="1.85"/><circle cx="143.0" cy="363.4" r="1.85"/><circle cx="151.0" cy="359.3" r="1.85"/></g>
<text x="229.80" y="80.30" font-size="8.45" textLength="65.50" lengthAdjust="spacingAndGlyphs">GPEET procyclin</text>
<text x="165.30" y="191.20" font-size="8.45" textLength="96.20" lengthAdjust="spacingAndGlyphs">Flagellar calcium−binding</text>
<text x="166.30" y="224.50" font-size="8.45" textLength="92.70" lengthAdjust="spacingAndGlyphs">flagellar calcium−binding</text>
<text x="160.30" y="254.80" font-size="8.45" textLength="92.80" lengthAdjust="spacingAndGlyphs">PTP1−interacting protein</text>
<text x="75.90" y="295.50" font-size="8.45" textLength="109.20" lengthAdjust="spacingAndGlyphs">pteridine transporter, putative</text>
<text x="195.00" y="295.50" font-size="8.45" textLength="50.70" lengthAdjust="spacingAndGlyphs">BARP protein</text>
<g stroke="#000" stroke-width="0.7"><line x1="262.4" y1="80.6" x2="262.4" y2="81.9"/><line x1="218" y1="191.6" x2="218" y2="193"/><line x1="215.9" y1="225" x2="215.9" y2="226.4"/><line x1="209" y1="255.2" x2="209" y2="256.6"/><line x1="220.8" y1="295.8" x2="220.8" y2="297.6"/><line x1="131" y1="295.8" x2="131" y2="296.6"/></g>
<text x="343.00" y="14.80" font-size="19" font-weight="bold">C</text>
<text x="368.60" y="16.60" font-size="19" font-weight="bold">i)</text>
<rect x="420.3" y="0.7" width="192.4" height="64.3" rx="9.5" fill="#f6f9f0" stroke="#c3cfac" stroke-width="1.8"/>
<text x="438.70" y="12.00" font-size="6.6" font-weight="bold" font-style="italic" fill="#b8302a" textLength="42.00" lengthAdjust="spacingAndGlyphs">TbIncRNA-23</text>
<text x="437.80" y="21.00" font-size="5.2" font-weight="bold" fill="#222" textLength="39.40" lengthAdjust="spacingAndGlyphs">position 112 nt</text>
<text x="445.00" y="42.30" font-size="6.3" font-weight="bold" fill="#4c8048" textLength="18.20" lengthAdjust="spacingAndGlyphs">5'UTR</text>
<text x="435.20" y="50.80" font-size="6.6" font-weight="bold" font-style="italic" fill="#4c8048" textLength="37.60" lengthAdjust="spacingAndGlyphs">TLP7 mRNA</text>
<text x="431.70" y="59.90" font-size="5.2" font-weight="bold" fill="#222" textLength="43.00" lengthAdjust="spacingAndGlyphs">position 1603 nt</text>
<path d="M481.9,20.2 Q487.6,22.6 488.7,24.3" fill="none" stroke="#333" stroke-width="0.6"/>
<path d="M491.4,26.0 L487.8,25.7 L489.5,23.0 Z" fill="#333"/>
<path d="M481.2,56.7 Q486.6,53.3 487.3,52.7" fill="none" stroke="#333" stroke-width="0.6"/>
<path d="M490.0,50.9 L488.2,54.0 L486.4,51.3 Z" fill="#333"/>
<text x="502.00" y="28.80" font-size="9.0" font-weight="bold" fill="#d2463c" textLength="7.50" lengthAdjust="spacingAndGlyphs">5'</text>
<text x="515.50" y="28.80" font-size="9.0" font-weight="bold" fill="#d2463c" textLength="66.80" lengthAdjust="spacingAndGlyphs">UUCCCUGCUUC</text>
<text x="590.00" y="28.80" font-size="9.0" font-weight="bold" fill="#d2463c" textLength="7.50" lengthAdjust="spacingAndGlyphs">3'</text>
<text x="502.00" y="48.20" font-size="9.0" font-weight="bold" fill="#3f7040" textLength="7.50" lengthAdjust="spacingAndGlyphs">3'</text>
<text x="515.50" y="48.20" font-size="9.0" font-weight="bold" fill="#3f7040" textLength="67.50" lengthAdjust="spacingAndGlyphs">AAGGGACGAAG</text>
<text x="590.50" y="48.20" font-size="9.0" font-weight="bold" fill="#3f7040" textLength="7.50" lengthAdjust="spacingAndGlyphs">5'</text>
<line x1="519.50" y1="32.6" x2="519.50" y2="38.8" stroke="#333" stroke-width="0.9"/>
<line x1="525.56" y1="32.6" x2="525.56" y2="38.8" stroke="#333" stroke-width="0.9"/>
<line x1="531.62" y1="32.6" x2="531.62" y2="38.8" stroke="#333" stroke-width="0.9"/>
<line x1="537.68" y1="32.6" x2="537.68" y2="38.8" stroke="#333" stroke-width="0.9"/>
<line x1="543.74" y1="32.6" x2="543.74" y2="38.8" stroke="#333" stroke-width="0.9"/>
<line x1="549.80" y1="32.6" x2="549.80" y2="38.8" stroke="#333" stroke-width="0.9"/>
<line x1="555.86" y1="32.6" x2="555.86" y2="38.8" stroke="#333" stroke-width="0.9"/>
<line x1="561.92" y1="32.6" x2="561.92" y2="38.8" stroke="#333" stroke-width="0.9"/>
<line x1="567.98" y1="32.6" x2="567.98" y2="38.8" stroke="#333" stroke-width="0.9"/>
<line x1="574.04" y1="32.6" x2="574.04" y2="38.8" stroke="#333" stroke-width="0.9"/>
<line x1="580.10" y1="32.6" x2="580.10" y2="38.8" stroke="#333" stroke-width="0.9"/>
<text x="364.70" y="83.10" font-size="5.2" fill="#2e6b2b" textLength="142.90" lengthAdjust="spacingAndGlyphs" stroke="#2e6b2b" stroke-width="0.2">[GGAAACATATGCCCATCGCAAGGCAAATATGTGAAGGGGCA]</text>
<text x="508.80" y="83.10" font-size="5.2" fill="#a5231c" textLength="144.90" lengthAdjust="spacingAndGlyphs" stroke="#a5231c" stroke-width="0.2">[CGATGTTGGAGGTTGACGGTGTGTGCTTTTGAAGACTTTGT]</text>
<text x="423.60" y="94.20" font-size="6.4" font-weight="bold" font-style="italic" fill="#111" textLength="34.50" lengthAdjust="spacingAndGlyphs">TLP7 mRNA</text>
<text x="570.00" y="97.30" font-size="6.4" font-weight="bold" font-style="italic" fill="#111" textLength="38.00" lengthAdjust="spacingAndGlyphs">TbIncRNA-23</text>
<text x="366.60" y="125.20" font-size="19" font-weight="bold">ii)</text>
<text x="401.20" y="136.30" font-size="6.4" font-weight="bold" font-style="italic" textLength="42.80" lengthAdjust="spacingAndGlyphs">TbIncRNA-23</text>
<text x="454.40" y="136.30" font-size="6.3" font-weight="bold" textLength="7.10" lengthAdjust="spacingAndGlyphs">PS</text>
<text x="472.80" y="136.30" font-size="6.3" font-weight="bold" textLength="9.20" lengthAdjust="spacingAndGlyphs">OE</text>
<text x="395.70" y="152.00" font-size="8.2" font-weight="bold" font-style="italic" textLength="44.30" lengthAdjust="spacingAndGlyphs">TLP7 mRNA</text>
<text x="406.30" y="177.80" font-size="8.2" font-weight="bold" font-style="italic" textLength="32.70" lengthAdjust="spacingAndGlyphs">7SL RNA</text>
<text x="491.80" y="152.00" font-size="6.3" textLength="26.00" lengthAdjust="spacingAndGlyphs">~6300nt</text>
<text x="492.00" y="178.00" font-size="6.3" textLength="21.00" lengthAdjust="spacingAndGlyphs">-261nt</text>
<defs><filter id="bl" x="-50%" y="-80%" width="200%" height="260%"><feGaussianBlur stdDeviation="1.6"/></filter><filter id="bl2" x="-50%" y="-80%" width="200%" height="260%"><feGaussianBlur stdDeviation="2.4"/></filter></defs>
<rect x="444.2" y="138.4" width="47.4" height="21.5" fill="#c4c4c4"/>
<svg x="444.2" y="138.4" width="47.4" height="21.5" overflow="hidden">
<ellipse cx="12.3" cy="11.6" rx="9" ry="6" fill="#a0a0a0" opacity="0.55" filter="url(#bl2)"/>
<ellipse cx="35.3" cy="11.1" rx="9.5" ry="7" fill="#2a2a2a" opacity="0.85" filter="url(#bl2)"/>
</svg>
<rect x="444.2" y="138.4" width="47.4" height="21.5" fill="none" stroke="#808080" stroke-width="0.8" stroke-dasharray="2.6,1.8"/>
<rect x="444.2" y="164.3" width="47.4" height="22.1" fill="#e9e9e9"/>
<svg x="444.2" y="164.3" width="47.4" height="22.1" overflow="hidden">
<ellipse cx="12.6" cy="10.9" rx="8.5" ry="5.3" fill="#3a3a3a" opacity="0.85" filter="url(#bl2)"/>
<ellipse cx="34.8" cy="10.9" rx="9.5" ry="5.3" fill="#000" opacity="1.0" filter="url(#bl2)"/>
</svg>
<rect x="444.2" y="164.3" width="47.4" height="22.1" fill="none" stroke="#808080" stroke-width="0.8" stroke-dasharray="2.6,1.8"/>
<text x="575.60" y="111.60" font-size="4.6" fill="#222" textLength="19.50" lengthAdjust="spacingAndGlyphs">**p=0.006</text>
<line x1="574" y1="113.5" x2="611" y2="113.5" stroke="#333" stroke-width="0.9"/>
<line x1="567.8" y1="115.7" x2="567.8" y2="214.8" stroke="#d9d9d9" stroke-width="0.8"/>
<line x1="567.8" y1="214.8" x2="618" y2="214.8" stroke="#d9d9d9" stroke-width="0.8"/>
<text x="565.00" y="119.20" font-size="4.0" font-weight="bold" fill="#222" text-anchor="end">400</text>
<text x="565.00" y="142.90" font-size="4.0" font-weight="bold" fill="#222" text-anchor="end">300</text>
<text x="565.00" y="167.10" font-size="4.0" font-weight="bold" fill="#222" text-anchor="end">200</text>
<text x="565.00" y="191.20" font-size="4.0" font-weight="bold" fill="#222" text-anchor="end">100</text>
<text x="565.00" y="214.60" font-size="4.0" font-weight="bold" fill="#222" text-anchor="end">0</text>
<rect x="577" y="190.6" width="12.3" height="24.2" fill="#ff8c00"/>
<rect x="598.5" y="132.4" width="12.5" height="82.4" fill="#ff8c00"/>
<line x1="604" y1="126.2" x2="604" y2="138.6" stroke="#555" stroke-width="0.8"/>
<line x1="602.8" y1="126.2" x2="605.2" y2="126.2" stroke="#555" stroke-width="0.7"/>
<circle cx="582.4" cy="190.6" r="1.1" fill="#fff" stroke="#222" stroke-width="0.75"/>
<circle cx="603.7" cy="117.8" r="1.1" fill="#fff" stroke="#222" stroke-width="0.75"/>
<circle cx="603.7" cy="137.6" r="1.1" fill="#fff" stroke="#222" stroke-width="0.75"/>
<circle cx="604" cy="138.7" r="1.1" fill="#fff" stroke="#222" stroke-width="0.75"/>
<text x="576.20" y="130.60" font-size="5.2" font-weight="bold" fill="#222" textLength="9.50" lengthAdjust="spacingAndGlyphs">n=3</text>
<text x="583.00" y="222.40" font-size="6.3" font-weight="bold" text-anchor="middle" textLength="7.60" lengthAdjust="spacingAndGlyphs">PS</text>
<text x="604.40" y="222.40" font-size="6.3" font-weight="bold" text-anchor="middle" textLength="8.80" lengthAdjust="spacingAndGlyphs">OE</text>
<text x="0" y="0" font-size="6.9" font-weight="bold" transform="translate(553.4,161) rotate(-90)" text-anchor="middle" textLength="88.5" lengthAdjust="spacingAndGlyphs">Expression of <tspan font-style="italic">TLP7 mRNA</tspan>%</text>
<text x="343.00" y="249.70" font-size="19" font-weight="bold">D</text>
<text x="368.60" y="248.60" font-size="19" font-weight="bold">i)</text>
<rect x="421.1" y="237.5" width="186.6" height="66.9" rx="9.5" fill="#f6f9f0" stroke="#c3cfac" stroke-width="1.8"/>
<text x="437.80" y="248.70" font-size="6.6" font-weight="bold" font-style="italic" fill="#b8302a" textLength="40.60" lengthAdjust="spacingAndGlyphs">TbIncRNA-23</text>
<text x="438.20" y="257.40" font-size="5.2" font-weight="bold" fill="#222" textLength="38.00" lengthAdjust="spacingAndGlyphs">position 193 nt</text>
<text x="446.00" y="276.40" font-size="6.3" font-weight="bold" fill="#4c8048" textLength="17.50" lengthAdjust="spacingAndGlyphs">3'UTR</text>
<text x="423.20" y="284.30" font-size="6.6" font-weight="bold" font-style="italic" fill="#4c8048" textLength="63.20" lengthAdjust="spacingAndGlyphs">Pteridine transporter</text>
<text x="444.80" y="292.00" font-size="6.6" font-weight="bold" font-style="italic" fill="#4c8048" textLength="19.00" lengthAdjust="spacingAndGlyphs">mRNA</text>
<text x="432.80" y="298.90" font-size="5.2" font-weight="bold" fill="#222" textLength="40.90" lengthAdjust="spacingAndGlyphs">position 2122 nt</text>
<path d="M480.6,256.3 Q486.2,258.9 487.1,260.6" fill="none" stroke="#333" stroke-width="0.6"/>
<path d="M489.8,262.4 L486.2,262.0 L488.0,259.3 Z" fill="#333"/>
<path d="M479.1,292.0 Q484.7,288.6 485.6,287.9" fill="none" stroke="#333" stroke-width="0.6"/>
<path d="M488.3,286.2 L486.4,289.3 L484.7,286.6 Z" fill="#333"/>
<text x="494.70" y="266.60" font-size="9.0" font-weight="bold" fill="#d2463c" textLength="7.30" lengthAdjust="spacingAndGlyphs">5'</text>
<text x="508.00" y="266.60" font-size="9.0" font-weight="bold" fill="#d2463c" textLength="78.10" lengthAdjust="spacingAndGlyphs">AACGAUGUUGGAG</text>
<text x="593.40" y="266.60" font-size="9.0" font-weight="bold" fill="#d2463c" textLength="6.80" lengthAdjust="spacingAndGlyphs">3'</text>
<text x="495.60" y="285.30" font-size="9.0" font-weight="bold" fill="#3f7040" textLength="7.00" lengthAdjust="spacingAndGlyphs">3'</text>
<text x="509.00" y="285.30" font-size="9.0" font-weight="bold" fill="#3f7040" textLength="76.80" lengthAdjust="spacingAndGlyphs">UUGUUACAACCUC</text>
<text x="593.40" y="285.30" font-size="9.0" font-weight="bold" fill="#3f7040" textLength="6.80" lengthAdjust="spacingAndGlyphs">5'</text>
<line x1="511.70" y1="270.2" x2="511.70" y2="276.5" stroke="#333" stroke-width="0.9"/>
<line x1="517.73" y1="270.2" x2="517.73" y2="276.5" stroke="#333" stroke-width="0.9"/>
<line x1="523.75" y1="270.2" x2="523.75" y2="276.5" stroke="#333" stroke-width="0.9"/>
<circle cx="529.77" cy="271.6" r="0.55" fill="#333"/><circle cx="529.77" cy="275.2" r="0.55" fill="#333"/>
<line x1="535.80" y1="270.2" x2="535.80" y2="276.5" stroke="#333" stroke-width="0.9"/>
<line x1="541.83" y1="270.2" x2="541.83" y2="276.5" stroke="#333" stroke-width="0.9"/>
<line x1="547.85" y1="270.2" x2="547.85" y2="276.5" stroke="#333" stroke-width="0.9"/>
<line x1="553.88" y1="270.2" x2="553.88" y2="276.5" stroke="#333" stroke-width="0.9"/>
<line x1="559.90" y1="270.2" x2="559.90" y2="276.5" stroke="#333" stroke-width="0.9"/>
<line x1="565.92" y1="270.2" x2="565.92" y2="276.5" stroke="#333" stroke-width="0.9"/>
<line x1="571.95" y1="270.2" x2="571.95" y2="276.5" stroke="#333" stroke-width="0.9"/>
<line x1="577.98" y1="270.2" x2="577.98" y2="276.5" stroke="#333" stroke-width="0.9"/>
<line x1="584.00" y1="270.2" x2="584.00" y2="276.5" stroke="#333" stroke-width="0.9"/>
<text x="370.50" y="322.70" font-size="5.2" fill="#2e6b2b" textLength="131.50" lengthAdjust="spacingAndGlyphs" stroke="#2e6b2b" stroke-width="0.2">[GGGGGGGGGCTGCATTTACTCATTGCCGCGGCTGTCGTT]</text>
<text x="503.00" y="322.70" font-size="5.2" fill="#a5231c" textLength="139.50" lengthAdjust="spacingAndGlyphs" stroke="#a5231c" stroke-width="0.2">[CTGCCCTGCCCCCCACTGCTGCGTTGCTGCTGGAGAAACGA]</text>
<text x="416.00" y="333.50" font-size="6.4" font-weight="bold" font-style="italic" fill="#111" textLength="58.50" lengthAdjust="spacingAndGlyphs">Pteridine transporter</text>
<text x="438.00" y="341.00" font-size="6.4" font-weight="bold" font-style="italic" fill="#111" textLength="17.00" lengthAdjust="spacingAndGlyphs">mRNA</text>
<text x="562.60" y="335.40" font-size="6.4" font-weight="bold" font-style="italic" fill="#111" textLength="37.90" lengthAdjust="spacingAndGlyphs">TbIncRNA-23</text>
<text x="366.20" y="347.70" font-size="19" font-weight="bold">ii)</text>
<text x="390.40" y="368.60" font-size="6.6" font-weight="bold" font-style="italic" textLength="41.90" lengthAdjust="spacingAndGlyphs">TbIncRNA-23</text>
<text x="444.30" y="369.70" font-size="6.3" font-weight="bold" textLength="7.90" lengthAdjust="spacingAndGlyphs">PS</text>
<text x="462.80" y="369.70" font-size="6.3" font-weight="bold" textLength="8.80" lengthAdjust="spacingAndGlyphs">OE</text>
<text x="477.90" y="369.70" font-size="6.3" font-weight="bold" textLength="22.50" lengthAdjust="spacingAndGlyphs">ΔMUT#2</text>
<text x="355.30" y="383.50" font-size="8.2" font-weight="bold" font-style="italic" textLength="78.10" lengthAdjust="spacingAndGlyphs">Pteridine transporter</text>
<text x="382.30" y="392.30" font-size="8.2" font-weight="bold" font-style="italic" textLength="24.10" lengthAdjust="spacingAndGlyphs">mRNA</text>
<text x="395.50" y="411.20" font-size="8.2" font-weight="bold" font-style="italic" textLength="33.30" lengthAdjust="spacingAndGlyphs">7SL RNA</text>
<text x="498.90" y="385.00" font-size="6.3" textLength="26.70" lengthAdjust="spacingAndGlyphs">~2500nt</text>
<text x="497.50" y="411.30" font-size="6.3" textLength="20.80" lengthAdjust="spacingAndGlyphs">-261nt</text>
<rect x="437.0" y="371.9" width="61.6" height="22.0" fill="#d4d4d4"/>
<svg x="437.0" y="371.9" width="61.6" height="22.0" overflow="hidden">
<ellipse cx="12.2" cy="11.9" rx="7.6" ry="3.9" fill="#000" opacity="1.0" filter="url(#bl)"/>
<ellipse cx="29.6" cy="10.4" rx="7.0" ry="3.2" fill="#a8a8a8" opacity="0.75" filter="url(#bl)"/>
<ellipse cx="49.0" cy="10.1" rx="8.0" ry="3.6" fill="#505050" opacity="0.85" filter="url(#bl)"/>
</svg>
<line x1="498.6" y1="371.9" x2="498.6" y2="393.9" stroke="#444" stroke-width="0.9" stroke-dasharray="2.2,1.4"/>
<rect x="437.0" y="399.0" width="61.6" height="23.0" fill="#e4e4e4"/>
<svg x="437.0" y="399.0" width="61.6" height="23.0" overflow="hidden">
<ellipse cx="12.6" cy="10.9" rx="7.0" ry="4.0" fill="#484848" opacity="0.85" filter="url(#bl2)"/>
<ellipse cx="30.2" cy="10.8" rx="7.0" ry="4.0" fill="#484848" opacity="0.85" filter="url(#bl2)"/>
<ellipse cx="49.0" cy="10.4" rx="7.5" ry="4.0" fill="#383838" opacity="0.9" filter="url(#bl2)"/>
</svg>
<line x1="498.6" y1="399.0" x2="498.6" y2="422.0" stroke="#444" stroke-width="0.9" stroke-dasharray="2.2,1.4"/>
<text x="591.70" y="347.30" font-size="4.6" fill="#222" textLength="20.10" lengthAdjust="spacingAndGlyphs">**p=0.002</text>
<line x1="589.9" y1="349.5" x2="622" y2="349.5" stroke="#333" stroke-width="0.9"/>
<text x="570.70" y="356.00" font-size="4.6" fill="#222" textLength="17.90" lengthAdjust="spacingAndGlyphs">*p=0.018</text>
<line x1="570.1" y1="357.5" x2="602" y2="357.5" stroke="#333" stroke-width="0.9"/>
<line x1="563.9" y1="351.9" x2="563.9" y2="427.5" stroke="#d9d9d9" stroke-width="0.8"/>
<line x1="563.9" y1="427.5" x2="623.4" y2="427.5" stroke="#d9d9d9" stroke-width="0.8"/>
<text x="560.70" y="354.00" font-size="4.0" font-weight="bold" fill="#222" text-anchor="end">120</text>
<text x="560.70" y="379.60" font-size="4.0" font-weight="bold" fill="#222" text-anchor="end">80</text>
<text x="560.70" y="404.40" font-size="4.0" font-weight="bold" fill="#222" text-anchor="end">40</text>
<text x="560.70" y="428.90" font-size="4.0" font-weight="bold" fill="#222" text-anchor="end">0</text>
<rect x="569.7" y="365.8" width="12.4" height="61.7" fill="#ff8c00"/>
<rect x="589.9" y="400.8" width="12.1" height="26.7" fill="#ff8c00"/>
<rect x="611.0" y="366.9" width="12.1" height="60.6" fill="#ff8c00"/>
<line x1="595.7" y1="393" x2="595.7" y2="408.6" stroke="#666" stroke-width="0.8"/>
<line x1="616.9" y1="357" x2="616.9" y2="376.8" stroke="#666" stroke-width="0.8"/>
<circle cx="575.7" cy="365.5" r="1.1" fill="#fff" stroke="#222" stroke-width="0.75"/>
<circle cx="595.7" cy="389.6" r="1.1" fill="#fff" stroke="#222" stroke-width="0.75"/>
<circle cx="595.7" cy="401.5" r="1.1" fill="#fff" stroke="#222" stroke-width="0.75"/>
<circle cx="595.7" cy="412.5" r="1.1" fill="#fff" stroke="#222" stroke-width="0.75"/>
<circle cx="616.9" cy="352.2" r="1.1" fill="#fff" stroke="#222" stroke-width="0.75"/>
<circle cx="616.9" cy="368.7" r="1.1" fill="#fff" stroke="#222" stroke-width="0.75"/>
<circle cx="616.9" cy="376.7" r="1.1" fill="#fff" stroke="#222" stroke-width="0.75"/>
<text x="596.00" y="377.50" font-size="5.2" font-weight="bold" fill="#222" textLength="8.50" lengthAdjust="spacingAndGlyphs">n=3</text>
<text x="576.00" y="434.60" font-size="6.3" font-weight="bold" text-anchor="middle" textLength="7.60" lengthAdjust="spacingAndGlyphs">PS</text>
<text x="595.70" y="434.60" font-size="6.3" font-weight="bold" text-anchor="middle" textLength="8.80" lengthAdjust="spacingAndGlyphs">OE</text>
<text x="611.00" y="434.60" font-size="6.3" font-weight="bold" textLength="22.00" lengthAdjust="spacingAndGlyphs">ΔMUT #2</text>
<text x="0" y="0" font-size="6.9" stroke="#000" stroke-width="0.22" transform="translate(542.6,390.2) rotate(-90)" text-anchor="middle" textLength="77" lengthAdjust="spacingAndGlyphs">Expression of <tspan font-style="italic">Pteridine</tspan></text>
<text x="0" y="0" font-size="6.9" stroke="#000" stroke-width="0.22" transform="translate(550.4,389.5) rotate(-90)" text-anchor="middle" textLength="63" lengthAdjust="spacingAndGlyphs">transporter <tspan font-style="italic">mRNA</tspan>%</text>
<text x="3.00" y="432.80" font-size="19" font-weight="bold">B</text>
<text x="26.00" y="437.65" font-size="6.5" font-weight="bold" text-anchor="end">10</text>
<text x="26.00" y="486.29" font-size="6.5" font-weight="bold" text-anchor="end">8</text>
<text x="26.00" y="534.93" font-size="6.5" font-weight="bold" text-anchor="end">6</text>
<text x="26.00" y="583.57" font-size="6.5" font-weight="bold" text-anchor="end">4</text>
<text x="26.00" y="632.21" font-size="6.5" font-weight="bold" text-anchor="end">2</text>
<text x="26.00" y="680.85" font-size="6.5" font-weight="bold" text-anchor="end">0</text>
<text x="26.00" y="729.49" font-size="6.5" font-weight="bold" text-anchor="end">-2</text>
<text x="26.00" y="778.13" font-size="6.5" font-weight="bold" text-anchor="end">-4</text>
<text x="26.00" y="826.77" font-size="6.5" font-weight="bold" text-anchor="end">-6</text>
<text x="0" y="0" font-size="13.2" font-weight="bold" transform="translate(10.4,704.5) rotate(-90)" textLength="157" lengthAdjust="spacingAndGlyphs">FoldChange (pvalue&lt;0.05)</text>
<rect x="58.5" y="446" width="13.6" height="12.2" fill="#5db20e" stroke="#111" stroke-width="1"/>
<rect x="58.5" y="463.8" width="13.6" height="12.2" fill="#fca84a" stroke="#111" stroke-width="1"/>
<text x="84.30" y="456.90" font-size="10.9" font-weight="bold" textLength="54.70" lengthAdjust="spacingAndGlyphs">Early PCF</text>
<text x="84.30" y="473.70" font-size="10.9" font-weight="bold" textLength="50.40" lengthAdjust="spacingAndGlyphs">Late PCF</text>
<line x1="30" y1="679.0999999999999" x2="685" y2="679.0999999999999" stroke="#ececec" stroke-width="0.8"/>
<rect x="35.50" y="420.6" width="3.3" height="258.2" fill="#7ab648"/>
<text x="0" y="0" font-size="6.98" text-anchor="end" transform="translate(38.45,680.30) rotate(-90)" stroke="#000" stroke-width="0.28">GPEET procyclin</text>
<rect x="45.55" y="549.1" width="3.3" height="129.7" fill="#7ab648"/>
<text x="0" y="0" font-size="6.98" text-anchor="end" transform="translate(48.50,680.30) rotate(-90)" stroke="#000" stroke-width="0.28">flagellar calcium-binding protein</text>
<rect x="55.60" y="551.1" width="3.3" height="127.7" fill="#7ab648"/>
<text x="0" y="0" font-size="6.98" text-anchor="end" transform="translate(58.55,680.30) rotate(-90)" stroke="#000" stroke-width="0.28">Flagellar calcium-binding 44 kDa protein</text>
<rect x="65.65" y="557.2" width="3.3" height="121.6" fill="#7ab648"/>
<text x="0" y="0" font-size="6.98" text-anchor="end" transform="translate(68.60,680.30) rotate(-90)" stroke="#000" stroke-width="0.28">flagellar calcium-binding 24 kDa protein</text>
<rect x="75.70" y="558.2" width="3.3" height="120.6" fill="#7ab648"/>
<text x="0" y="0" font-size="6.98" text-anchor="end" transform="translate(78.65,680.30) rotate(-90)" stroke="#000" stroke-width="0.28">24 kDa calcimedin, flagellar calcium-binding 24 kDa</text>
<rect x="85.75" y="559.4" width="3.3" height="119.4" fill="#7ab648"/>
<text x="0" y="0" font-size="6.98" text-anchor="end" transform="translate(88.70,680.30) rotate(-90)" stroke="#000" stroke-width="0.28">flagellar calcium-binding protein</text>
<rect x="95.80" y="564.1" width="3.3" height="114.7" fill="#7ab648"/>
<text x="0" y="0" font-size="6.98" text-anchor="end" transform="translate(98.75,680.30) rotate(-90)" stroke="#000" stroke-width="0.28">NLI interacting factor-like phosphatase, putative</text>
<rect x="105.85" y="572.8" width="3.3" height="106.0" fill="#7ab648"/>
<text x="0" y="0" font-size="6.98" text-anchor="end" transform="translate(108.80,680.30) rotate(-90)" stroke="#000" stroke-width="0.28">PTP1-interacting protein, 39 kDa</text>
<rect x="115.90" y="579.9" width="3.3" height="98.9" fill="#7ab648"/>
<text x="0" y="0" font-size="6.98" text-anchor="end" transform="translate(118.85,680.30) rotate(-90)" stroke="#000" stroke-width="0.28">hypothetical protein, conserved</text>
<rect x="125.95" y="582.9" width="3.3" height="95.9" fill="#7ab648"/>
<text x="0" y="0" font-size="6.98" text-anchor="end" transform="translate(128.90,680.30) rotate(-90)" stroke="#000" stroke-width="0.28">aspartate aminotransferase</text>
<rect x="136.00" y="583.4" width="3.3" height="95.4" fill="#7ab648"/>
<text x="0" y="0" font-size="6.98" text-anchor="end" transform="translate(138.95,680.30) rotate(-90)" stroke="#000" stroke-width="0.28">receptor-type adenylate cyclase GRESAG 4, putative</text>
<rect x="146.05" y="588.7" width="3.3" height="90.1" fill="#7ab648"/>
<text x="0" y="0" font-size="6.98" text-anchor="end" transform="translate(149.00,680.30) rotate(-90)" stroke="#000" stroke-width="0.28">receptor-type adenylate cyclase GRESAG 4, putative</text>
<rect x="156.10" y="595.1" width="3.3" height="83.7" fill="#7ab648"/>
<text x="0" y="0" font-size="6.98" text-anchor="end" transform="translate(159.05,680.30) rotate(-90)" stroke="#000" stroke-width="0.28">hypothetical protein, conserved</text>
<rect x="166.15" y="595.8" width="3.3" height="83.0" fill="#7ab648"/>
<text x="0" y="0" font-size="6.98" text-anchor="end" transform="translate(169.10,680.30) rotate(-90)" stroke="#000" stroke-width="0.28">PTP1-interacting protein, 39 kDa</text>
<rect x="176.20" y="599.6" width="3.3" height="79.2" fill="#7ab648"/>
<text x="0" y="0" font-size="6.98" text-anchor="end" transform="translate(179.15,680.30) rotate(-90)" stroke="#000" stroke-width="0.28">SUMO-interacting motif-containing protein</text>
<rect x="186.25" y="600.1" width="3.3" height="78.7" fill="#7ab648"/>
<text x="0" y="0" font-size="6.98" text-anchor="end" transform="translate(189.20,680.30) rotate(-90)" stroke="#000" stroke-width="0.28">kinetoplastid-specific dual specificity phosphatase, putative</text>
<rect x="196.30" y="601.1" width="3.3" height="77.7" fill="#7ab648"/>
<text x="0" y="0" font-size="6.98" text-anchor="end" transform="translate(199.25,680.30) rotate(-90)" stroke="#000" stroke-width="0.28">adenosine transporter, putative</text>
<rect x="206.35" y="608.2" width="3.3" height="70.6" fill="#7ab648"/>
<text x="0" y="0" font-size="6.98" text-anchor="end" transform="translate(209.30,680.30) rotate(-90)" stroke="#000" stroke-width="0.28">leucine-rich repeat protein (LRRP), putative</text>
<rect x="216.40" y="610.3" width="3.3" height="68.5" fill="#7ab648"/>
<text x="0" y="0" font-size="6.98" text-anchor="end" transform="translate(219.35,680.30) rotate(-90)" stroke="#000" stroke-width="0.28">prostaglandin f synthase</text>
<rect x="226.45" y="613.9" width="3.3" height="64.9" fill="#7ab648"/>
<text x="0" y="0" font-size="6.98" text-anchor="end" transform="translate(229.40,680.30) rotate(-90)" stroke="#000" stroke-width="0.28">hypothetical protein, unlikely</text>
<rect x="236.50" y="616.4" width="3.3" height="62.4" fill="#7ab648"/>
<text x="0" y="0" font-size="6.98" text-anchor="end" transform="translate(239.45,680.30) rotate(-90)" stroke="#000" stroke-width="0.28">hypothetical protein, conserved</text>
<rect x="246.55" y="622.3" width="3.3" height="56.5" fill="#7ab648"/>
<text x="0" y="0" font-size="6.98" text-anchor="end" transform="translate(249.50,680.30) rotate(-90)" stroke="#000" stroke-width="0.28">single strand-specific nuclease, putative</text>
<rect x="256.60" y="622.8" width="3.3" height="56.0" fill="#7ab648"/>
<text x="0" y="0" font-size="6.98" text-anchor="end" transform="translate(259.55,680.30) rotate(-90)" stroke="#000" stroke-width="0.28">cysteine peptidase, Clan CA, family C2</text>
<rect x="266.65" y="625.8" width="3.3" height="53.0" fill="#7ab648"/>
<text x="0" y="0" font-size="6.98" text-anchor="end" transform="translate(269.60,680.30) rotate(-90)" stroke="#000" stroke-width="0.28">flagellar calcium-binding 24 kDa protein</text>
<rect x="276.70" y="629.5" width="3.3" height="49.3" fill="#7ab648"/>
<text x="0" y="0" font-size="6.98" text-anchor="end" transform="translate(279.65,680.30) rotate(-90)" stroke="#000" stroke-width="0.28">pteridine reductase 1</text>
<rect x="286.75" y="630.2" width="3.3" height="48.6" fill="#7ab648"/>
<text x="0" y="0" font-size="6.98" text-anchor="end" transform="translate(289.70,680.30) rotate(-90)" stroke="#000" stroke-width="0.28">hypothetical protein, conserved</text>
<rect x="296.80" y="631.8" width="3.3" height="47.0" fill="#7ab648"/>
<text x="0" y="0" font-size="6.98" text-anchor="end" transform="translate(299.75,680.30) rotate(-90)" stroke="#000" stroke-width="0.28">methyltransferase domain containing protein, putative</text>
<rect x="306.85" y="632.6" width="3.3" height="46.2" fill="#7ab648"/>
<text x="0" y="0" font-size="6.98" text-anchor="end" transform="translate(309.80,680.30) rotate(-90)" stroke="#000" stroke-width="0.28">protein I/6</text>
<rect x="316.90" y="634.2" width="3.3" height="44.6" fill="#7ab648"/>
<text x="0" y="0" font-size="6.98" text-anchor="end" transform="translate(319.85,680.30) rotate(-90)" stroke="#000" stroke-width="0.28">Nitroreductase family, putative</text>
<rect x="326.95" y="634.2" width="3.3" height="44.6" fill="#7ab648"/>
<text x="0" y="0" font-size="6.98" text-anchor="end" transform="translate(329.90,680.30) rotate(-90)" stroke="#000" stroke-width="0.28">SET domain protein 11</text>
<rect x="337.00" y="634.6" width="3.3" height="44.2" fill="#7ab648"/>
<text x="0" y="0" font-size="6.98" text-anchor="end" transform="translate(339.95,680.30) rotate(-90)" stroke="#000" stroke-width="0.28">Nitroreductase family, putative</text>
<rect x="347.05" y="635.8" width="3.3" height="43.0" fill="#ff8c00"/>
<text x="0" y="0" font-size="6.98" text-anchor="end" transform="translate(350.00,680.30) rotate(-90)" stroke="#000" stroke-width="0.28">procyclic-enriched flagellar receptor adenylate cyclase 6</text>
<rect x="357.10" y="636.5" width="3.3" height="42.3" fill="#7ab648"/>
<text x="0" y="0" font-size="6.98" text-anchor="end" transform="translate(360.05,680.30) rotate(-90)" stroke="#000" stroke-width="0.28">single strand-specific nuclease, putative</text>
<rect x="367.15" y="636.5" width="3.3" height="42.3" fill="#7ab648"/>
<text x="0" y="0" font-size="6.98" text-anchor="end" transform="translate(370.10,680.30) rotate(-90)" stroke="#000" stroke-width="0.28">single strand-specific nuclease, putative</text>
<rect x="377.20" y="637.1" width="3.3" height="41.7" fill="#7ab648"/>
<text x="0" y="0" font-size="6.98" text-anchor="end" transform="translate(380.15,680.30) rotate(-90)" stroke="#000" stroke-width="0.28">thymine-7-hydroxylase, putative</text>
<rect x="387.25" y="637.1" width="3.3" height="41.7" fill="#7ab648"/>
<text x="0" y="0" font-size="6.98" text-anchor="end" transform="translate(390.20,680.30) rotate(-90)" stroke="#000" stroke-width="0.28">calcium/calmodulin-dependent protein kinase, putative</text>
<rect x="397.30" y="637.8" width="3.3" height="41.0" fill="#7ab648"/>
<text x="0" y="0" font-size="6.98" text-anchor="end" transform="translate(400.25,680.30) rotate(-90)" stroke="#000" stroke-width="0.28">hypothetical protein, conserved</text>
<rect x="407.35" y="638.0" width="3.3" height="40.8" fill="#7ab648"/>
<text x="0" y="0" font-size="6.98" text-anchor="end" transform="translate(410.30,680.30) rotate(-90)" stroke="#000" stroke-width="0.28">tryparedoxin peroxidase</text>
<rect x="417.40" y="638.2" width="3.3" height="40.6" fill="#7ab648"/>
<text x="0" y="0" font-size="6.98" text-anchor="end" transform="translate(420.35,680.30) rotate(-90)" stroke="#000" stroke-width="0.28">flagellum attachment zone protein 35</text>
<rect x="427.45" y="638.6" width="3.3" height="40.2" fill="#7ab648"/>
<text x="0" y="0" font-size="6.98" text-anchor="end" transform="translate(430.40,680.30) rotate(-90)" stroke="#000" stroke-width="0.28">adenylate kinase, putative</text>
<rect x="437.50" y="639.4" width="3.3" height="39.4" fill="#7ab648"/>
<text x="0" y="0" font-size="6.98" text-anchor="end" transform="translate(440.45,680.30) rotate(-90)" stroke="#000" stroke-width="0.28">zinc finger CCCH domain containing protein 11</text>
<rect x="447.55" y="640.0" width="3.3" height="38.8" fill="#7ab648"/>
<text x="0" y="0" font-size="6.98" text-anchor="end" transform="translate(450.50,680.30) rotate(-90)" stroke="#000" stroke-width="0.28">NADH-dependent fumarate reductase</text>
<rect x="457.60" y="643.0" width="3.3" height="35.8" fill="#7ab648"/>
<text x="0" y="0" font-size="6.98" text-anchor="end" transform="translate(460.55,680.30) rotate(-90)" stroke="#000" stroke-width="0.28">BNR repeat-like domain/Concanavalin A-like lectin</text>
<rect x="467.65" y="643.3" width="3.3" height="35.5" fill="#7ab648"/>
<text x="0" y="0" font-size="6.98" text-anchor="end" transform="translate(470.60,680.30) rotate(-90)" stroke="#000" stroke-width="0.28">Calpain-like protein 1.1</text>
<rect x="477.70" y="643.7" width="3.3" height="35.1" fill="#7ab648"/>
<text x="0" y="0" font-size="6.98" text-anchor="end" transform="translate(480.65,680.30) rotate(-90)" stroke="#000" stroke-width="0.28">unspecified product</text>
<rect x="487.75" y="643.9" width="3.3" height="34.9" fill="#7ab648"/>
<text x="0" y="0" font-size="6.98" text-anchor="end" transform="translate(490.70,680.30) rotate(-90)" stroke="#000" stroke-width="0.28">trans-sialidase, putative</text>
<rect x="497.80" y="646.2" width="3.3" height="32.6" fill="#7ab648"/>
<text x="0" y="0" font-size="6.98" text-anchor="end" transform="translate(500.75,680.30) rotate(-90)" stroke="#000" stroke-width="0.28">cystathionine beta-synthase, putative</text>
<rect x="507.85" y="647.7" width="3.3" height="31.1" fill="#7ab648"/>
<text x="0" y="0" font-size="6.98" text-anchor="end" transform="translate(510.80,680.30) rotate(-90)" stroke="#000" stroke-width="0.28">cystathionine beta-synthase, putative</text>
<rect x="517.90" y="678.8" width="3.3" height="31.9" fill="#ff8c00"/>
<text x="0" y="0" font-size="6.98" transform="translate(520.85,677.00) rotate(-90)" stroke="#000" stroke-width="0.28">Ankyrin repeats (3 copies), putative</text>
<rect x="527.95" y="678.8" width="3.3" height="32.6" fill="#ff8c00"/>
<text x="0" y="0" font-size="6.98" transform="translate(530.90,677.00) rotate(-90)" stroke="#000" stroke-width="0.28">aconitase</text>
<rect x="538.00" y="678.8" width="3.3" height="33.2" fill="#ff8c00"/>
<text x="0" y="0" font-size="6.98" transform="translate(540.95,677.00) rotate(-90)" stroke="#000" stroke-width="0.28">hypothetical protein, conserved</text>
<rect x="548.05" y="678.8" width="3.3" height="35.6" fill="#ff8c00"/>
<text x="0" y="0" font-size="6.98" transform="translate(551.00,677.00) rotate(-90)" stroke="#000" stroke-width="0.28">receptor-type adenylate cyclase GRESAG 4, putative</text>
<rect x="558.10" y="678.8" width="3.3" height="39.4" fill="#ff8c00"/>
<text x="0" y="0" font-size="6.98" transform="translate(561.05,677.00) rotate(-90)" stroke="#000" stroke-width="0.28">hypothetical protein, conserved</text>
<rect x="568.15" y="678.8" width="3.3" height="40.7" fill="#ff8c00"/>
<text x="0" y="0" font-size="6.98" transform="translate(571.10,677.00) rotate(-90)" stroke="#000" stroke-width="0.28">Domain of unknown function (DUF1935), putative</text>
<rect x="578.20" y="678.8" width="3.3" height="42.1" fill="#ff8c00"/>
<text x="0" y="0" font-size="6.98" transform="translate(581.15,677.00) rotate(-90)" stroke="#000" stroke-width="0.28">EP3-2 procyclin</text>
<rect x="588.25" y="678.8" width="3.3" height="43.4" fill="#ff8c00"/>
<text x="0" y="0" font-size="6.98" transform="translate(591.20,677.00) rotate(-90)" stroke="#000" stroke-width="0.28">EP1 procyclin</text>
<rect x="598.30" y="678.8" width="3.3" height="43.9" fill="#ff8c00"/>
<text x="0" y="0" font-size="6.98" transform="translate(601.25,677.00) rotate(-90)" stroke="#000" stroke-width="0.28">receptor-type adenylate cyclase GRESAG 4 (pseudogene), putative</text>
<rect x="608.35" y="678.8" width="3.3" height="44.6" fill="#ff8c00"/>
<text x="0" y="0" font-size="6.98" transform="translate(611.30,677.00) rotate(-90)" stroke="#000" stroke-width="0.28">procyclic-enriched flagellar receptor adenylate cyclase 1</text>
<rect x="618.40" y="678.8" width="3.3" height="47.7" fill="#ff8c00"/>
<text x="0" y="0" font-size="6.98" transform="translate(621.35,677.00) rotate(-90)" stroke="#000" stroke-width="0.28">fructose-1,6-bisphosphatase</text>
<rect x="628.45" y="678.8" width="3.3" height="51.3" fill="#ff8c00"/>
<text x="0" y="0" font-size="6.98" transform="translate(631.40,677.00) rotate(-90)" stroke="#000" stroke-width="0.28">citrate synthase, putative</text>
<rect x="638.50" y="678.8" width="3.3" height="51.3" fill="#ff8c00"/>
<text x="0" y="0" font-size="6.98" transform="translate(641.45,677.00) rotate(-90)" stroke="#000" stroke-width="0.28">amino acid permease/transporter, putative</text>
<rect x="648.55" y="678.8" width="3.3" height="65.6" fill="#ff8c00"/>
<text x="0" y="0" font-size="6.98" transform="translate(651.50,677.00) rotate(-90)" stroke="#000" stroke-width="0.28">expression site-associated gene 4 (ESAG4) protein, putative</text>
<rect x="658.60" y="678.8" width="3.3" height="96.9" fill="#ff8c00"/>
<text x="0" y="0" font-size="6.98" transform="translate(661.55,677.00) rotate(-90)" stroke="#000" stroke-width="0.28">pteridine transporter, putative</text>
<rect x="668.65" y="678.8" width="3.3" height="107.7" fill="#ff8c00"/>
<text x="0" y="0" font-size="6.98" transform="translate(671.60,677.00) rotate(-90)" stroke="#000" stroke-width="0.28">pteridine transporter, putative</text>
<rect x="678.70" y="678.8" width="3.3" height="109.2" fill="#ff8c00"/>
<text x="0" y="0" font-size="6.98" transform="translate(681.65,677.00) rotate(-90)" stroke="#000" stroke-width="0.28">pteridine transporter, putative</text>
</svg>
</body></html>
